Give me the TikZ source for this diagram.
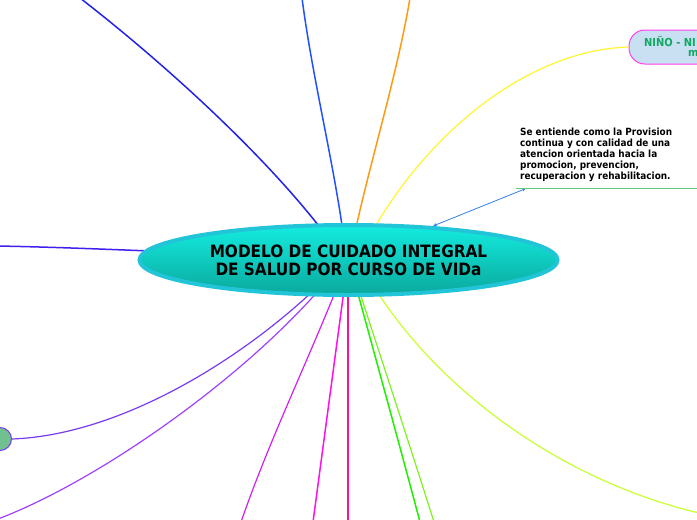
\documentclass[tikz,border=0pt]{standalone}
\usepackage{fontspec}
\setmainfont{DejaVu Sans}
\newfontfamily\condbold{DejaVu Sans Condensed Bold}
\usetikzlibrary{shapes.geometric,arrows.meta}
\definecolor{cdarkblue}{HTML}{2222E8}
\definecolor{cblue}{HTML}{2250FF}
\definecolor{corange}{HTML}{FF9A14}
\definecolor{cyellow}{HTML}{FFF530}
\definecolor{carrow}{HTML}{3080E8}
\definecolor{cnoteline}{HTML}{60C880}
\definecolor{cindigo}{HTML}{4020F0}
\definecolor{cviolet}{HTML}{7A3AF0}
\definecolor{cpurple}{HTML}{A040FF}
\definecolor{cmagenta}{HTML}{D020F0}
\definecolor{cfuchsia}{HTML}{FF10E8}
\definecolor{cpink}{HTML}{FF1090}
\definecolor{cgreen}{HTML}{20F000}
\definecolor{cyg}{HTML}{80F020}
\definecolor{clime}{HTML}{C8FF30}
\definecolor{cellborder}{HTML}{22C4D8}
\definecolor{celltop}{HTML}{14ECE0}
\definecolor{cellbot}{HTML}{0AA89C}
\definecolor{cninofill}{HTML}{C8E0F2}
\definecolor{cninoborder}{HTML}{FF40E8}
\definecolor{cninotext}{HTML}{10A860}
\definecolor{ccirclefill}{HTML}{70C090}
\tikzset{
  branch/.style={line width=1.5pt},
  thinbranch/.style={line width=1.2pt},
  notetext/.style={font=\condbold\fontsize{9.9}{11}\selectfont, align=left, anchor=north west, inner sep=0pt, text=black},
}
\begin{document}
\begin{tikzpicture}[x=1pt,y=-1pt]
\useasboundingbox (0,0) rectangle (697,520);
\clip (0,0) rectangle (697,520);
% free ends
\coordinate (e1) at (80,-2);
\coordinate (e2) at (302,-2);
\coordinate (e3) at (410,-2);
\coordinate (e7) at (-2,246);
\coordinate (e9) at (-2,519);
\coordinate (e10) at (241,522);
\coordinate (e11) at (313,522);
\coordinate (e12) at (348,522);
\coordinate (e13) at (420,522);
\coordinate (e14) at (434,522);
\coordinate (e15) at (699,513);
% ellipse attachment points
\coordinate (s1) at (322,230);
\coordinate (s2) at (343,232);
\coordinate (s3) at (355,232);
\coordinate (s4) at (372,232);
\coordinate (s7) at (150,251);
\coordinate (s8) at (314,290);
\coordinate (s9) at (319,290);
\coordinate (s10) at (336,290);
\coordinate (s11) at (344,290);
\coordinate (s12) at (348,290);
\coordinate (s13) at (357,290);
\coordinate (s14) at (359,290);
\coordinate (s15) at (376,290);
% nodes
\node[draw=cninoborder, fill=cninofill, line width=1pt, rounded corners=16pt, minimum width=160pt, minimum height=34pt, anchor=west, inner sep=0pt] (nino) at (628.5,47) {};
\node[anchor=west, inner sep=0pt, text=cninotext, font=\condbold\fontsize{11}{13}\selectfont] (ninoA) at (644,41.5) {NIÑO - NI};
\node[anchor=west, inner sep=0pt, text=cninotext, font=\condbold\fontsize{11}{13}\selectfont] (ninoB) at (688,53.5) {m};
\node[circle, draw=cviolet, fill=ccirclefill, line width=1pt, minimum size=23pt, inner sep=0pt] (dot) at (0,439) {};
\node[notetext] (note) at (520,127.5) {Se entiende como la Provision\\continua y con calidad de una\\atencion orientada hacia la\\promocion, prevencion,\\recuperacion y rehabilitacion.};
\coordinate (nl1) at (516,188.5);
\coordinate (nl2) at (699,188.5);
\coordinate (na) at (526,188.5);
\coordinate (ea) at (433,226);
% connectors
\draw[branch, cdarkblue] (e1) .. controls (160,60) and (260,150) .. (s1);
\draw[branch, cblue] (e2) .. controls (312,75) and (332,155) .. (s2);
\draw[branch, corange] (e3) .. controls (397,75) and (372,155) .. (s3);
\draw[thinbranch, cyellow] (nino.west) .. controls (530,50) and (430,130) .. (s4);
\draw[line width=0.8pt, carrow, {Stealth[length=4pt,width=3pt]}-{Stealth[length=4pt,width=3pt]}] (ea) -- (na);
\draw[line width=1.5pt, cnoteline] (nl1) -- (nl2);
\draw[branch, cindigo] (e7) .. controls (50,247) and (100,249) .. (s7);
\draw[thinbranch, cviolet] (dot.east) .. controls (120,435) and (240,360) .. (s8);
\draw[thinbranch, cpurple] (e9) .. controls (100,480) and (240,380) .. (s9);
\draw[thinbranch, cmagenta] (e10) .. controls (268,444) and (305,367) .. (s10);
\draw[branch, cfuchsia] (e11) -- (s11);
\draw[thinbranch, cpink] (e12) -- (s12);
\draw[branch, cgreen] (e13) .. controls (399,443) and (378,367) .. (s13);
\draw[thinbranch, cyg] (e14) .. controls (409,443) and (384,367) .. (s14);
\draw[thinbranch, clime] (s15) .. controls (440,390) and (560,480) .. (e15);
% central topic
\node[ellipse, draw=cellborder, line width=4pt, top color=celltop, bottom color=cellbot, minimum width=418pt, minimum height=70pt, inner sep=0pt, align=center, font=\condbold\fontsize{17}{18}\selectfont] (center) at (348.5,260) {MODELO DE CUIDADO INTEGRAL\\DE SALUD POR CURSO DE VIDa};
\end{tikzpicture}
\end{document}
